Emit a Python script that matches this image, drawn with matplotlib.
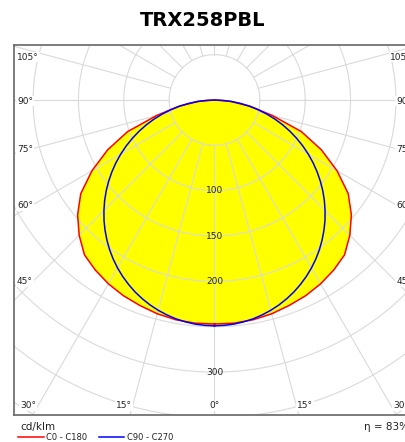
import numpy as np
import matplotlib
matplotlib.use("Agg")
import matplotlib.pyplot as plt
from matplotlib.lines import Line2D

title = "TRX258PBL"
# gamma angles (deg from nadir) and luminous intensity, cd/klm
gamma_c0 = [0, 5, 10, 15, 20, 25, 30, 35, 40, 45, 50, 55, 60, 65, 70, 75, 80, 85, 90]
c0_c180 = [247, 247, 246, 244, 241, 238, 234, 229, 223, 211, 197, 180, 156, 130, 102, 66, 40, 18, 0]
gamma_c90 = [0, 2.5, 5, 7.5, 10, 12.5, 15, 17.5, 20, 22.5, 25, 27.5, 30, 32.5, 35, 37.5,
             40, 42.5, 45, 47.5, 50, 52.5, 55, 57.5, 60, 62.5, 65, 67.5, 70, 72.5, 75,
             77.5, 80, 82.5, 85, 87.5, 90]
c90_c270 = [249, 248.7, 248, 246.7, 245, 242.7, 240, 236.8, 233.1, 229, 224.3, 219.3,
            213.8, 207.9, 201.6, 194.8, 187.7, 180.3, 172.4, 164.3, 155.9, 147.1, 138.1,
            128.9, 119.4, 109.8, 99.9, 90, 79.9, 69.7, 59.4, 49.2, 38.9, 28.8, 18.8, 9, 0]
rings = [50, 100, 150, 200, 250, 300, 350, 400, 450]
ring_labels = [100, 150, 200, 300]
side_labels = ["105°", "90°", "75°", "60°", "45°"]
bottom_labels = ["30°", "15°", "0°", "15°", "30°"]
series_names = ["C0 - C180", "C90 - C270"]
series_colors = ["#ff0000", "#0000ff"]
unit = "cd/klm"
efficiency = "η = 83%"

W, H = 406, 442
cx, cy = 214.5, 100.0   # pole position in pixels
k = 0.907               # pixels per cd/klm
left, right, top, bottom = 14, 2 * cx - 14, 45, 415

def px(x, y):
    return (x - cx) / k, -(y - cy) / k

fig = plt.figure(figsize=(W / 100, H / 100), dpi=100)
fig.text(0.5, 1 - 20 / H, title, ha="center", va="center",
         fontsize=14, fontweight="bold", family="DejaVu Sans")

ax = fig.add_axes([left / W, 1 - bottom / H, (right - left) / W, (bottom - top) / H])
ax.set_xlim(px(left, 0)[0], px(right, 0)[0])
ax.set_ylim(px(0, bottom)[1], px(0, top)[1])
ax.set_xticks([])
ax.set_yticks([])
for s in ax.spines.values():
    s.set_color("#666666")
    s.set_linewidth(1.2)

def outline(gam, vals):
    t = np.radians(gam)
    r = np.asarray(vals, dtype=float)
    x = np.concatenate([r * np.sin(t), (-r * np.sin(t))[::-1]])
    y = np.concatenate([-r * np.cos(t), (-r * np.cos(t))[::-1]])
    return x, y

curves = [outline(gamma_c0, c0_c180), outline(gamma_c90, c90_c270)]
for x, y in curves:
    ax.fill(x, y, color="#ffff00", lw=0, zorder=1)

# grid
th = np.linspace(0, 2 * np.pi, 400)
for r in rings:
    ax.plot(r * np.cos(th), r * np.sin(th), color="#dadada", lw=0.8, zorder=2)
for a in range(0, 360, 15):
    t = np.radians(a)
    ax.plot([50 * np.sin(t), 600 * np.sin(t)], [-50 * np.cos(t), -600 * np.cos(t)],
            color="#dadada", lw=0.8, zorder=2)

for (x, y), c in zip(curves, series_colors):
    ax.plot(x, y, color=c, lw=1.1, zorder=3)

for r in ring_labels:
    ax.text(0, -r, str(r), ha="center", va="center", fontsize=6.5, color="#222222", zorder=5)

box = dict(facecolor="white", edgecolor="none", pad=0.6)
side_y = [57, 101, 149, 206, 282]
for lab, yy in zip(side_labels, side_y):
    ax.text(*px(17, yy), lab, ha="left", va="center", fontsize=6.5, color="#222222",
            bbox=box, zorder=5, clip_on=False)
    ax.text(*px(2 * cx - 17, yy), lab, ha="right", va="center", fontsize=6.5,
            color="#222222", bbox=box, zorder=5, clip_on=False)
bottom_x = [28, 124, cx, 2 * cx - 124, 2 * cx - 28]
for lab, xx in zip(bottom_labels, bottom_x):
    ax.text(*px(xx, 406), lab, ha="center", va="center", fontsize=6.5, color="#222222",
            bbox=box, zorder=5)

# footer
fig.text(20 / W, 1 - 427 / H, unit, ha="left", va="center", fontsize=7.5, color="#222222")
fig.text(409 / W, 1 - 427 / H, efficiency, ha="right", va="center", fontsize=7.5, color="#222222")
leg_x = [(18, 44, 46), (99, 124, 127)]
for (x0, x1, xt), name, c in zip(leg_x, series_names, series_colors):
    fig.add_artist(Line2D([x0 / W, x1 / W], [1 - 437 / H, 1 - 437 / H], color=c, lw=1.1))
    fig.text(xt / W, 1 - 437 / H, name, ha="left", va="center", fontsize=6, color="#222222")

fig.savefig("out.png", dpi=100)
